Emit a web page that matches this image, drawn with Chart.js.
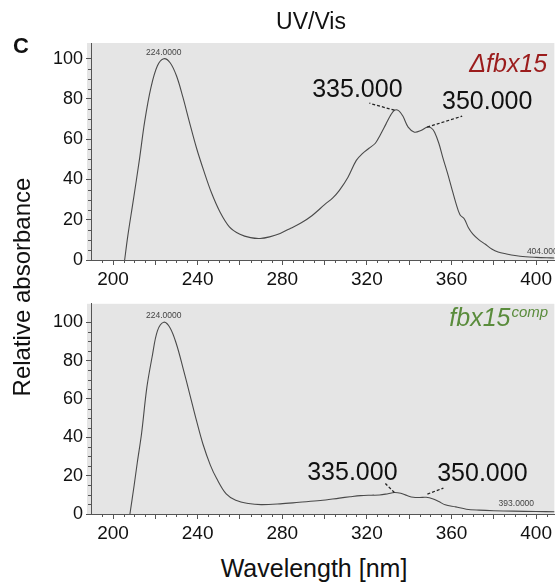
<!DOCTYPE html>
<html><head><meta charset="utf-8">
<script src="https://cdn.jsdelivr.net/npm/chart.js@4.4.1/dist/chart.umd.min.js"></script>
<style>
html,body{margin:0;padding:0;background:#fff;}
#wrap{position:relative;width:555px;height:585px;overflow:hidden;font-family:"Liberation Sans",Arial,sans-serif;color:#111;}
canvas{position:absolute;left:0;}
.t{position:absolute;white-space:nowrap;line-height:1;transform:translate(-50%,-50%);}
</style></head><body>
<div id="wrap">
<canvas id="c1" width="555" height="290" style="top:0px"></canvas>
<canvas id="c2" width="555" height="255" style="top:290px"></canvas>
<div class="t" style="left:311px;top:21px;font-size:23px;">UV/Vis</div>
<div class="t" style="left:21px;top:46px;font-size:22px;font-weight:bold;">C</div>
<div class="t" style="left:22px;top:287px;font-size:24px;transform:translate(-50%,-50%) rotate(-90deg);">Relative absorbance</div>
<div class="t" style="left:314px;top:568px;font-size:25px;">Wavelength [nm]</div>
</div>
<script>
// ---- data ----
const wavelengthTickLabels = [200, 240, 280, 320, 360, 400];
const absorbanceTicks = [0, 20, 40, 60, 80, 100];

const deltaWavelength = [205.5,207,209.5,212.5,215,218,221,224,227,230,233,236,239.5,243,246.5,250.5,255,260,265,269.5,274,279,284,289,294,300,304,307,311,315,318,321,324,326,329,331,333,335,337,339.5,342.5,345.5,348.5,350.5,352,354,356,358,360,362,364,366,368,370,373,376,379,382,386,390,395,400,405,409];
const deltaAbsorbance = [0,12,29,50,69,86,96.5,100,98,91.5,81,69,55.5,44,33.5,24,16.5,12.8,11.1,10.7,11.5,13.2,15.8,18.5,22,27.5,31,34.6,41,49.5,53,55.5,58,61.5,67.5,71.5,74.4,74.2,71.5,66,63.5,64.3,66,65.5,63.5,58,50.5,43.5,36,28.5,22.5,20.5,16,13,10,7.8,5.5,4,3,2.2,1.6,1.3,1.1,1.0];

const compWavelength = [208,210,211.5,213.5,216,218.5,221,224,227,230,233,236.5,239.5,242.5,246,249,253.5,258,264,270,279,288,298,307,312,317,322,326,330,333,336,339,342,345,348,351,354,357,362,367,373,380,389,400,409];
const compAbsorbance = [0,15,27,42,66,82,95.5,100,97,88.5,76.5,61.5,48.5,36.5,25.5,18.5,10.5,7.2,5.5,4.9,5.3,6.1,7,8.3,9,9.6,9.8,9.9,10.6,11.2,10.8,9.6,8.7,8.6,8.7,8,6.5,4.8,3.7,2.5,2,1.7,1.5,1.3,1.2];

const peakTexts = ['335.000', '350.000'];
const deltaPeaks = [[333, 74.4], [348.5, 66]];
const compPeaks = [[333, 11.2], [348.6, 10.4]];
const deltaMarks = [['224.0000', 224, 100], ['404.0000', 404, 1.1]];
const compMarks = [['224.0000', 224, 100], ['393.0000', 393, 1.4]];

const FONT = '"Liberation Sans", Arial, sans-serif';

const decorPlugin = {
  id: 'decor',
  beforeDraw(chart, args, o) {
    const {ctx, chartArea: a} = chart;
    ctx.save();
    ctx.fillStyle = '#e5e5e5';
    ctx.fillRect(a.left - 4, a.top, a.right - a.left + 4, a.bottom - a.top);
    ctx.restore();
  },
  afterDraw(chart, args, o) {
    const {ctx, chartArea: a, scales: {x, y}} = chart;
    ctx.save();
    ctx.strokeStyle = '#555'; ctx.lineWidth = 1;
    for (let v = 195; v <= x.max; v += 5) {
      if (v % 20 === 0) continue;
      const px = Math.round(x.getPixelForValue(v)) + 0.5;
      ctx.beginPath(); ctx.moveTo(px, a.bottom); ctx.lineTo(px, a.bottom + 3); ctx.stroke();
    }
    for (let v = 5; v < 100; v += 5) {
      if (v % 20 === 0) continue;
      const py = Math.round(y.getPixelForValue(v)) + 0.5;
      ctx.beginPath(); ctx.moveTo(a.left - 3, py); ctx.lineTo(a.left, py); ctx.stroke();
    }
    // small instrument labels
    ctx.fillStyle = '#444'; ctx.font = '8.5px ' + FONT;
    ctx.textAlign = 'center'; ctx.textBaseline = 'middle';
    o.marks.forEach((m, i) => {
      const off = o.markOffsets[i];
      ctx.fillText(m[0], x.getPixelForValue(m[1]) + off[0], y.getPixelForValue(m[2]) + off[1]);
    });
    // peak annotations
    ctx.fillStyle = '#111'; ctx.font = '25px ' + FONT;
    ctx.strokeStyle = '#222'; ctx.lineWidth = 1.3; ctx.setLineDash([3, 2]);
    o.peaks.forEach((p, i) => {
      const px = x.getPixelForValue(p[0]), py = y.getPixelForValue(p[1]);
      const off = o.peakOffsets[i];
      ctx.beginPath(); ctx.moveTo(px, py); ctx.lineTo(px + off[2], py + off[3]); ctx.stroke();
      ctx.fillText(peakTexts[i], px + off[0], py + off[1]);
    });
    ctx.setLineDash([]);
    // series name
    ctx.fillStyle = o.nameColor;
    ctx.font = 'italic 25px ' + FONT;
    ctx.textAlign = 'left';
    ctx.fillText(o.name, a.right + o.nameX, a.top + o.nameY);
    if (o.sup) {
      const w = ctx.measureText(o.name).width;
      ctx.font = 'italic 15px ' + FONT;
      ctx.fillText(o.sup, a.right + o.nameX + w + 1, a.top + o.nameY - 6);
    }
    ctx.restore();
  }
};

function panel(id, xs, ys, cfg) {
  const majors = [];
  for (let v = 200; v <= 400; v += 20) majors.push(v);
  return new Chart(document.getElementById(id), {
    type: 'line',
    data: { datasets: [{
      data: xs.map((v, i) => ({x: v, y: ys[i]})),
      borderColor: '#4a4a4a', borderWidth: 1.1, pointRadius: 0, fill: false,
      tension: 0.35
    }]},
    options: {
      responsive: false, animation: false, devicePixelRatio: 1,
      layout: { padding: { top: cfg.top, left: 0, right: 0, bottom: 0 } },
      plugins: { legend: { display: false }, tooltip: { enabled: false }, decor: cfg.decor },
      scales: {
        x: {
          type: 'linear', min: 189.6, max: 408.6,
          afterBuildTicks: s => { s.ticks = majors.map(v => ({value: v})); },
          afterFit: s => { s.height = cfg.xh; },
          ticks: { callback: v => wavelengthTickLabels.includes(v) ? String(v) : '',
                   font: { size: 19, family: FONT }, color: '#111', padding: 3,
                   maxRotation: 0, autoSkip: false },
          grid: { drawOnChartArea: false, drawTicks: true, tickLength: 5, color: '#555' },
          border: { color: '#555', width: 1 }
        },
        y: {
          min: 0, max: cfg.ymax,
          afterBuildTicks: s => { s.ticks = absorbanceTicks.map(v => ({value: v})); },
          afterFit: s => { s.width = 91; },
          ticks: { font: { size: 18, family: FONT }, color: '#111', padding: 3, autoSkip: false },
          grid: { drawOnChartArea: false, drawTicks: true, tickLength: 5, color: '#555' },
          border: { color: '#555', width: 1 }
        }
      }
    },
    plugins: [decorPlugin]
  });
}

panel('c1', deltaWavelength, deltaAbsorbance, {
  top: 43, xh: 30, ymax: 107.8,
  decor: {
    marks: deltaMarks, markOffsets: [[0, -6], [0, -6]],
    peaks: deltaPeaks, peakOffsets: [[-37, -20, -25, -7], [60, -25, 35, -11]],
    name: 'Δfbx15', nameColor: '#9b1c1c', nameX: -85, nameY: 22
  }
});
panel('c2', compWavelength, compAbsorbance, {
  top: 7, xh: 31, ymax: 109.6,
  decor: {
    marks: compMarks, markOffsets: [[0, -7], [-5, -8]],
    peaks: compPeaks, peakOffsets: [[-42, -19, -9, -9], [55, -20, 16, -6]],
    name: 'fbx15', sup: 'comp', nameColor: '#5a8c3c', nameX: -105, nameY: 15
  }
});
</script>
</body></html>
